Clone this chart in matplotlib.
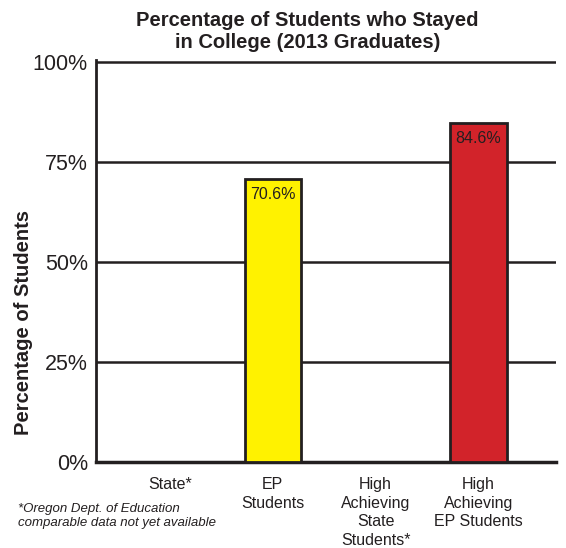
import numpy as np
import matplotlib.pyplot as plt

plt.rcParams['font.family'] = ['Liberation Sans', 'DejaVu Sans']

# dados do grafico
categorias = ['State*', 'EP\nStudents', 'High\nAchieving\nState\nStudents*', 'High\nAchieving\nEP Students']
valores = [np.nan, 70.6, np.nan, 84.6]
cores = ['#FFF200', '#FFF200', '#D2232A', '#D2232A']
rotulos = ['', '70.6%', '', '84.6%']
yticks = [0, 25, 50, 75, 100]
ytick_labels = ['0%', '25%', '50%', '75%', '100%']

fig = plt.figure(figsize=(5.66, 5.48), dpi=100)
ax = fig.add_axes([0.170, 0.157, 0.812, 0.734])

x = np.arange(len(categorias))

# linhas de grade
for t in yticks[1:]:
    ax.axhline(t, color='#231F20', lw=1.8, zorder=1)

ax.bar(x, valores, width=0.55, color=cores, edgecolor='#231F20', linewidth=2, zorder=3)

for xi, v, r in zip(x, valores, rotulos):
    if r:
        ax.text(xi, v - 1.8, r, ha='center', va='top', fontsize=11.5, color='#231F20', zorder=4)

ax.set_xlim(-0.718, 3.752)
ax.set_ylim(0, 100.5)
ax.set_xticks(x)
ax.set_xticklabels(categorias, fontsize=11.5, color='#231F20', linespacing=1.3)
ax.set_yticks(yticks)
ax.set_yticklabels(ytick_labels, fontsize=15.5, color='#231F20')
ax.tick_params(length=0, pad=6)
ax.tick_params(axis='x', pad=11)

for s in ['top', 'right']:
    ax.spines[s].set_visible(False)
ax.spines['left'].set_linewidth(2)
ax.spines['bottom'].set_linewidth(2.5)
ax.spines['left'].set_color('#231F20')
ax.spines['bottom'].set_color('#231F20')

ax.set_ylabel('Percentage of Students', fontsize=14.5, fontweight='bold', color='#231F20')
ax.yaxis.set_label_coords(-0.137, 0.346)

fig.text(0.543, 1 - 32 / 548, 'Percentage of Students who Stayed\nin College (2013 Graduates)',
         ha='center', va='center', fontsize=14.5, fontweight='bold', color='#231F20', linespacing=1.2)

fig.text(18 / 566, 1 - 516 / 548, '*Oregon Dept. of Education\ncomparable data not yet available',
         ha='left', va='center', fontsize=9.5, style='italic', color='#231F20', linespacing=1.3)

fig.savefig('out.png', dpi=100)
